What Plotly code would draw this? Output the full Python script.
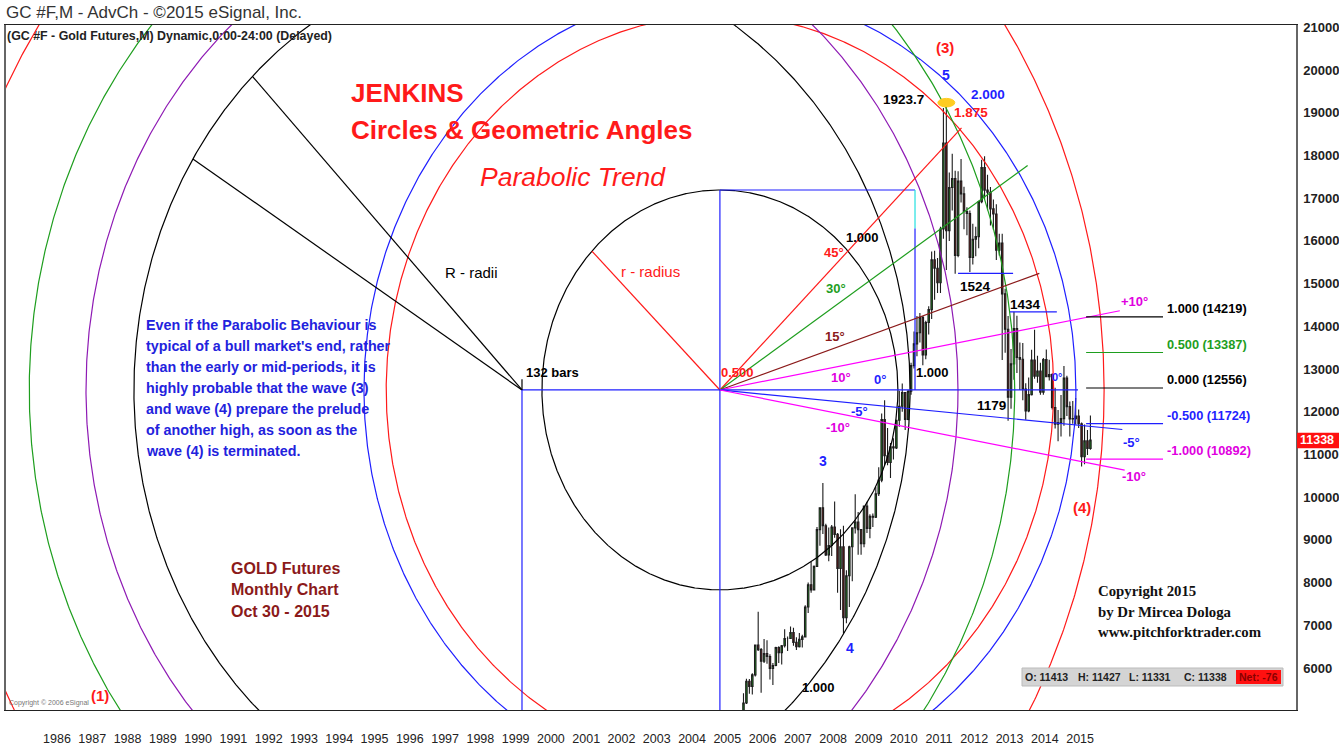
import numpy as np
import plotly.graph_objects as go

# ------------------------------------------------------------------ data
YEAR_TICKS = list(range(1986, 2016))
PRICE_TICKS = list(range(6000, 21001, 1000))

# Monthly gold futures bars (USD/oz), starting Sep 2005; chart shows price x 10
FIRST_YEAR, FIRST_MONTH = 2005, 9
PRICE_MULT = 10
OPEN = [433, 469, 470, 495,
        518, 569, 557, 584, 654, 643, 616, 634, 627, 599, 606, 648,
        636, 652, 669, 669, 683, 660, 650, 667, 673, 743, 795, 783,
        838, 924, 975, 933, 865, 887, 930, 913, 833, 884, 718, 816,
        884, 928, 942, 924, 891, 979, 927, 955, 953, 1008, 1040, 1182,
        1097, 1081, 1118, 1115, 1180, 1213, 1245, 1182, 1248, 1308, 1359, 1385,
        1421, 1333, 1409, 1439, 1556, 1536, 1502, 1628, 1829, 1624, 1725, 1746,
        1566, 1740, 1710, 1669, 1664, 1561, 1604, 1610, 1692, 1772, 1719, 1714,
        1675, 1663, 1578, 1595, 1476, 1393, 1234, 1312, 1395, 1327, 1323, 1253,
        1202, 1240, 1321, 1283, 1295, 1246, 1322, 1282, 1287, 1210, 1171, 1175,
        1184, 1279, 1212, 1183, 1184, 1190, 1172, 1095, 1132, 1114]
HIGH = [476, 478, 497, 541,
        575, 574, 588, 654, 732, 647, 668, 665, 632, 612, 650, 651,
        654, 691, 674, 697, 694, 672, 682, 678, 747, 800, 848, 840,
        930, 975, 1033, 938, 929, 935, 990, 916, 925, 933, 829, 886,
        928, 1007, 965, 924, 980, 989, 960, 962, 1024, 1070, 1196, 1227,
        1162, 1127, 1138, 1180, 1249, 1266, 1246, 1251, 1315, 1388, 1424, 1431,
        1424, 1413, 1447, 1575, 1577, 1560, 1633, 1911, 1923.7, 1760, 1804, 1764,
        1763, 1792, 1727, 1679, 1671, 1640, 1633, 1694, 1790, 1798, 1755, 1726,
        1697, 1686, 1617, 1617, 1488, 1424, 1347, 1434, 1425, 1362, 1361, 1267,
        1280, 1345, 1392, 1331, 1315, 1326, 1346, 1322, 1290, 1256, 1204, 1239,
        1307, 1284, 1224, 1225, 1232, 1205, 1175, 1170, 1157, 1191]
LOW = [432, 459, 456, 492,
       516, 540, 538, 580, 640, 542, 612, 610, 573, 560, 604, 612,
       608, 648, 640, 669, 652, 642, 648, 648, 673, 729, 776, 782,
       838, 886, 914, 862, 850, 862, 905, 776, 736, 681, 705, 743,
       803, 915, 865, 865, 883, 916, 904, 930, 951, 1003, 1035, 1075,
       1075, 1045, 1088, 1113, 1165, 1200, 1157, 1180, 1240, 1301, 1330, 1362,
       1309, 1323, 1381, 1417, 1462, 1478, 1478, 1605, 1532, 1600, 1671, 1523,
       1562, 1690, 1627, 1613, 1527, 1545, 1564, 1583, 1688, 1697, 1672, 1636,
       1626, 1555, 1566, 1321, 1338, 1179, 1207, 1275, 1291, 1251, 1227, 1181,
       1199, 1238, 1277, 1268, 1240, 1240, 1281, 1273, 1205, 1161, 1131, 1142,
       1167, 1190, 1142, 1172, 1170, 1162, 1072, 1077, 1099, 1111]
CLOSE = [469, 470, 495, 518,
         569, 557, 584, 654, 643, 616, 634, 627, 599, 606, 648, 636,
         652, 669, 669, 683, 660, 650, 667, 673, 743, 795, 783, 838,
         924, 975, 933, 865, 887, 930, 913, 833, 884, 718, 816, 884,
         928, 942, 924, 891, 979, 927, 955, 953, 1008, 1040, 1182, 1097,
         1081, 1118, 1115, 1180, 1213, 1245, 1182, 1248, 1308, 1359, 1385, 1421,
         1333, 1409, 1439, 1556, 1536, 1502, 1628, 1829, 1624, 1725, 1746, 1566,
         1740, 1710, 1669, 1664, 1561, 1604, 1610, 1692, 1772, 1719, 1714, 1675,
         1663, 1578, 1595, 1476, 1393, 1234, 1312, 1395, 1327, 1323, 1253, 1202,
         1240, 1321, 1283, 1295, 1246, 1322, 1282, 1287, 1210, 1171, 1175, 1184,
         1279, 1212, 1183, 1184, 1190, 1172, 1095, 1132, 1114, 1133.8]

LAST_BAR = {"O": 11413, "H": 11427, "L": 11331, "C": 11338, "Net": -76}

# Jenkins construction (time in decimal years, price in chart units)
CENTER_A = (2005.29, 12510)      # "0.500" pivot
CENTER_B = (1999.68, 12510)      # "132 bars" pivot
PRICE_PER_YEAR = 928             # chart scale used for the circles
R_SMALL = 5.045                  # r - radius (1.000), years
A_MULTS = [1.0, 1.875, 2.0]
B_RADII_BARS = [132, 148.3, 167.6, 198]
RECT_WIDTH = 5.53                # years
R_RADII_ANGLES = [134, 148]
SMALL_R_ANGLE = 136
FAN_LABELS = ["45°", "30°", "15°", "10°", "0°", "-5°", "-10°"]
FAN_ANGLES = [44, 33, 18, 10, 0, -5, -10]
FAN_LENGTHS = [9.52, 10.40, 9.52, 11.51, 10.15, 11.45, 11.65]

LEVEL_NAMES = ["1.000", "0.500", "0.000", "-0.500", "-1.000"]
LEVEL_PRICES = [14219, 13387, 12556, 11724, 10892]
LEVEL_SPAN = (2015.67, 2017.85)

SR_LABELS = ["1524", "1434"]
SR_PRICES = [15240, 14340]
SR_START = [2012.04, 2013.51]
SR_END = [2013.60, 2014.84]
PEAK_LABEL = "1923.7"

# ------------------------------------------------------------------ style
RED = "#ff1a1a"
BLUE = "#1f1fff"
GREEN = "#1e9e1e"
PURPLE = "#8e1ab4"
BROWN = "#8b1a1a"
MAGENTA = "#ff00ff"
BLACK = "#000000"
FONT = "Liberation Sans, Arial, sans-serif"
SERIF = "Liberation Serif, Times New Roman, serif"

W, H = 1339, 745
PX0, PX1, PY0, PY1 = 6, 1296, 25, 710
X_RANGE = [1986.5 + (PX0 - 57) / 35.28, 1986.5 + (PX1 - 57) / 35.28]
Y_RANGE = [5017, 21055]

A_COLORS = [BLACK, RED, BLUE]
B_COLORS = [BLACK, PURPLE, GREEN, RED]
FAN_COLORS = [RED, GREEN, BROWN, MAGENTA, BLUE, BLUE, MAGENTA]
LEVEL_COLORS = [BLACK, GREEN, BLACK, BLUE, MAGENTA]


def P(x, y):
    return (x - PX0) / (PX1 - PX0), (PY1 - y) / (PY1 - PY0)


fig = go.Figure()


def line(xs, ys, color, width=1.2):
    fig.add_trace(go.Scatter(x=xs, y=ys, mode="lines",
                             line=dict(color=color, width=width),
                             hoverinfo="skip", showlegend=False))


def ellipse(center, r_years, color):
    th = np.linspace(0, 2 * np.pi, 1441)
    line(center[0] + r_years * np.cos(th),
         center[1] + r_years * PRICE_PER_YEAR * np.sin(th), color)


def ray(center, angle_deg, length, color, width=1.2):
    a = np.radians(angle_deg)
    line([center[0], center[0] + length * np.cos(a)],
         [center[1], center[1] + length * PRICE_PER_YEAR * np.sin(a)], color, width)


# circles
for m, c in zip(A_MULTS, A_COLORS):
    ellipse(CENTER_A, R_SMALL * m, c)
for bars, c in zip(B_RADII_BARS, B_COLORS):
    ellipse(CENTER_B, bars / 12.0, c)

# radii
for ang in R_RADII_ANGLES:
    ray(CENTER_B, ang, B_RADII_BARS[0] / 12.0, BLACK)
ray(CENTER_A, SMALL_R_ANGLE, R_SMALL, RED)

# construction lines
top_price = CENTER_A[1] + R_SMALL * PRICE_PER_YEAR
line([CENTER_B[0], CENTER_A[0]], [CENTER_B[1], CENTER_A[1]], BLUE)
line([CENTER_B[0], CENTER_B[0]], [CENTER_B[1], Y_RANGE[0]], BLUE)
line([CENTER_B[0], CENTER_B[0]], [CENTER_B[1], CENTER_B[1] + 250], BLACK)
line([CENTER_A[0], CENTER_A[0]], [top_price, Y_RANGE[0]], BLUE)
line([CENTER_A[0], CENTER_A[0] + RECT_WIDTH], [top_price, top_price], BLUE)
line([CENTER_A[0] + RECT_WIDTH] * 2, [top_price, top_price - 900], "#22e0e0")
line([CENTER_A[0] + RECT_WIDTH] * 2, [top_price - 900, CENTER_A[1]], BLUE)

# angle fan
for ang, ln, c in zip(FAN_ANGLES, FAN_LENGTHS, FAN_COLORS):
    ray(CENTER_A, ang, ln, c)

# support / resistance levels
for p, s, e in zip(SR_PRICES, SR_START, SR_END):
    line([s, e], [p, p], BLUE)
for p, c in zip(LEVEL_PRICES, LEVEL_COLORS):
    line(list(LEVEL_SPAN), [p, p], c)

# candles
n = len(CLOSE)
t = [FIRST_YEAR + (FIRST_MONTH - 1 + i + 0.5) / 12.0 for i in range(n)]
mult = lambda a: [v * PRICE_MULT for v in a]
fig.add_trace(go.Candlestick(
    x=t, open=mult(OPEN), high=mult(HIGH), low=mult(LOW), close=mult(CLOSE),
    increasing=dict(line=dict(color="#1c1c1c", width=1.1), fillcolor="#1fae1f"),
    decreasing=dict(line=dict(color="#1c1c1c", width=1.1), fillcolor="#8b0f0f"),
    whiskerwidth=0, hoverinfo="skip", showlegend=False))

# peak marker
ipk = int(np.argmax(HIGH))
pk = HIGH[ipk] * PRICE_MULT
fig.add_shape(type="circle", xref="x", yref="y",
              x0=t[ipk] - 0.24, x1=t[ipk] + 0.24, y0=pk - 100, y1=pk + 100,
              fillcolor="#ffcc22", line=dict(color="#ffcc22", width=1))

# ------------------------------------------------------------------ text
ann = []


def text(s, x, y, color=BLACK, size=12, bold=False, anchor="center",
         family=FONT, italic=False):
    px_, py_ = P(x, y)
    if bold:
        s = "<b>" + s + "</b>"
    if italic:
        s = "<i>" + s + "</i>"
    ann.append(dict(text=s, x=px_, y=py_, xref="paper", yref="paper",
                    xanchor=anchor, yanchor="middle", showarrow=False,
                    font=dict(family=family, size=size, color=color)))


text("GC #F,M - AdvCh - ©2015 eSignal, Inc.", 4, 12, "#333333", 17, anchor="left")
text("(GC #F - Gold Futures,M) Dynamic,0:00-24:00 (Delayed)", 5, 36, "#222222", 12.4, True, "left")

text("JENKINS", 349, 93, RED, 26, True, "left")
text("Circles &amp; Geometric Angles", 349, 130, RED, 26, True, "left")
text("Parabolic Trend", 478, 177, RED, 26.5, anchor="left", italic=True)

text("R - radii", 443, 272, BLACK, 15, anchor="left")
text("r - radius", 619, 271, RED, 15, anchor="left")
text("132 bars", 524, 372, BLACK, 13, True, "left")
text("0.500", 719, 373, RED, 13, True, "left")
text("1.000", 862, 237, BLACK, 13, True)
text("1.000", 932, 372, BLACK, 13, True)
text("1.000", 818, 687, BLACK, 13, True)

fan_pos = [(834, 253), (836, 288), (835, 336), (841, 377), (880, 380), (859, 411), (838, 427)]
for lab, c, (x, y) in zip(FAN_LABELS, FAN_COLORS, fan_pos):
    col = "#e000e0" if c == MAGENTA else c
    text(lab, x, y, col, 13, True)

text("3", 823, 461, BLUE, 14, True)
text("4", 850, 648, BLUE, 14, True)
text("5", 946, 75, BLUE, 14, True)
text("(3)", 945, 48, RED, 15, True)
text("(4)", 1082, 507, RED, 15, True)
text("(1)", 100, 695, RED, 15, True)
text(PEAK_LABEL, 904, 100, BLACK, 13.5, True)
text("1.875", 971, 113, RED, 13.5, True)
text("2.000", 988, 95, BLUE, 13.5, True)
text(SR_LABELS[0], 975, 287, BLACK, 13.5, True)
text(SR_LABELS[1], 1025, 304, BLACK, 13.5, True)
text("1179", 991, 406, BLACK, 13.5, True)
text("0°", 1057, 377, BLUE, 11, True)
text("+10°", 1134, 301, "#e000e0", 13, True)
text("-5°", 1131, 442, BLUE, 13, True)
text("-10°", 1134, 476, "#e000e0", 13, True)

lvl_y = [308, 344, 380, 415, 451]
for nm, p, c, y in zip(LEVEL_NAMES, LEVEL_PRICES, LEVEL_COLORS, lvl_y):
    text(f"{nm} ({p})", 1165, y, "#e000e0" if c == MAGENTA else c, 12.8, True, "left")

para = ["Even if the Parabolic Behaviour is",
        "typical of a bull market's end, rather",
        "than the early or mid-periods, it is",
        "highly probable that the wave (3)",
        "and wave (4) prepare the prelude",
        "of another high, as soon as the",
        "wave (4) is terminated."]
for i, s in enumerate(para):
    text(s, 144, 325 + 21 * i, "#2222dd", 14.3, True, "left")

for i, s in enumerate(["GOLD Futures", "Monthly Chart", "Oct 30 - 2015"]):
    text(s, 229, 568 + 21.5 * i, "#8b1a1a", 16, True, "left")

for i, s in enumerate(["Copyright 2015", "by Dr Mircea Dologa", "www.pitchforktrader.com"]):
    text(s, 1096, 591 + 20.5 * i, "#111111", 14.8, True, "left", family=SERIF)

text("Copyright © 2006 eSignal", 7, 703, "#777777", 7, anchor="left")

# last-bar box
fig.add_shape(type="rect", xref="paper", yref="paper",
              x0=P(1022, 0)[0], x1=P(1283, 0)[0], y0=P(0, 686)[1], y1=P(0, 668)[1],
              fillcolor="#d4d4d4", line=dict(color="#bbbbbb", width=1))
fig.add_shape(type="rect", xref="paper", yref="paper",
              x0=P(1236, 0)[0], x1=P(1281, 0)[0], y0=P(0, 684)[1], y1=P(0, 670)[1],
              fillcolor="#ff1010", line=dict(width=0))
for s, x in zip([f"O: {LAST_BAR['O']}", f"H: {LAST_BAR['H']}",
                 f"L: {LAST_BAR['L']}", f"C: {LAST_BAR['C']}"], [1046, 1099, 1150, 1205]):
    text(s, x, 677, "#222222", 10.5, True)
text(f"Net: {LAST_BAR['Net']}", 1258, 677, "#880000", 10.5, True)

# last price marker on axis
last = CLOSE[-1] * PRICE_MULT
fig.add_shape(type="rect", xref="paper", yref="y",
              x0=P(1297, 0)[0], x1=P(1339, 0)[0], y0=last - 190, y1=last + 170,
              fillcolor="#ff1010", line=dict(width=0))
ann.append(dict(text=f"<b>{int(round(last))}</b>", x=P(1298, 0)[0], y=last, xref="paper", yref="y",
                xanchor="left", yanchor="middle", showarrow=False,
                font=dict(family=FONT, size=12.5, color="white")))

fig.update_layout(
    template="none",
    width=W, height=H,
    margin=dict(l=PX0, r=W - PX1, t=PY0, b=H - PY1, autoexpand=False),
    paper_bgcolor="white", plot_bgcolor="white",
    annotations=ann, showlegend=False, hovermode=False,
    xaxis=dict(range=X_RANGE, tickmode="array", automargin=False,
               tickvals=[y + 0.5 for y in YEAR_TICKS],
               ticktext=[str(y) for y in YEAR_TICKS],
               showgrid=False, zeroline=False, ticks="",
               showline=True, linecolor="#222222", linewidth=1, mirror=True,
               ticklabelstandoff=17,
               tickfont=dict(family=FONT, size=12.5, color="#222222"),
               rangeslider=dict(visible=False)),
    yaxis=dict(range=Y_RANGE, side="right", tickmode="array", automargin=False,
               tickvals=PRICE_TICKS, ticktext=[f"<b>{v}</b>" for v in PRICE_TICKS],
               showgrid=False, zeroline=False, ticks="",
               showline=True, linecolor="#666666", linewidth=1.5, mirror=True,
               ticklabelstandoff=3,
               tickfont=dict(family=FONT, size=13, color="#222222")),
)
fig.write_html("out.html", config={"displayModeBar": False},
               post_script="document.body.style.margin='0px';")
